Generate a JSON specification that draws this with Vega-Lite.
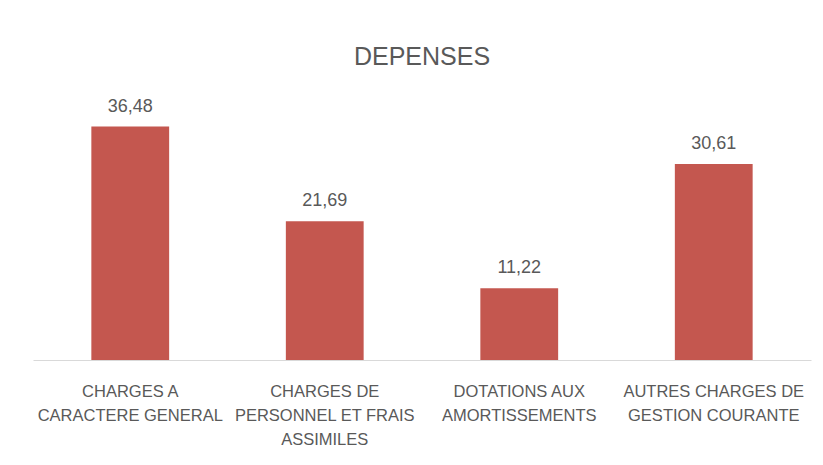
{
  "$schema": "https://vega.github.io/schema/vega-lite/v6.json",
  "width": 778,
  "height": 256,
  "autosize": {"type": "none"},
  "padding": {"left": 33, "top": 104, "right": 12, "bottom": 105},
  "config": {
    "view": {"stroke": null},
    "locale": {"number": {"decimal": ",", "thousands": " ", "grouping": [3], "currency": ["", " €"]}},
    "font": "Liberation Sans"
  },
  "title": {
    "text": "DEPENSES",
    "font": "Liberation Sans",
    "fontSize": 25,
    "fontWeight": "normal",
    "color": "#595959",
    "anchor": "middle",
    "baseline": "alphabetic",
    "offset": 8
  },
  "data": {
    "values": [
      {"poste": "CHARGES A|CARACTERE GENERAL", "valeur": 36.48},
      {"poste": "CHARGES DE|PERSONNEL ET FRAIS|ASSIMILES", "valeur": 21.69},
      {"poste": "DOTATIONS AUX|AMORTISSEMENTS", "valeur": 11.22},
      {"poste": "AUTRES CHARGES DE|GESTION COURANTE", "valeur": 30.61}
    ]
  },
  "encoding": {
    "x": {
      "field": "poste",
      "type": "nominal",
      "sort": null,
      "scale": {"paddingInner": 0.6, "paddingOuter": 0.3},
      "axis": {
        "title": null,
        "labelAngle": 0,
        "labelExpr": "split(datum.label, '|')",
        "labelFont": "Liberation Sans",
        "labelFontSize": 16.5,
        "labelColor": "#595959",
        "labelLineHeight": 24,
        "labelPadding": 36,
        "labelBaseline": "alphabetic",
        "labelLimit": 0,
        "ticks": false,
        "domainColor": "#D9D9D9",
        "domainWidth": 1
      }
    },
    "y": {
      "field": "valeur",
      "type": "quantitative",
      "scale": {"domain": [0, 40]},
      "axis": null
    }
  },
  "layer": [
    {"mark": {"type": "bar", "color": "#C4574F"}},
    {
      "mark": {"type": "text", "baseline": "alphabetic", "dy": -15, "fontSize": 18, "color": "#595959", "font": "Liberation Sans"},
      "encoding": {"text": {"field": "valeur", "type": "quantitative", "format": ".2f"}}
    }
  ]
}
